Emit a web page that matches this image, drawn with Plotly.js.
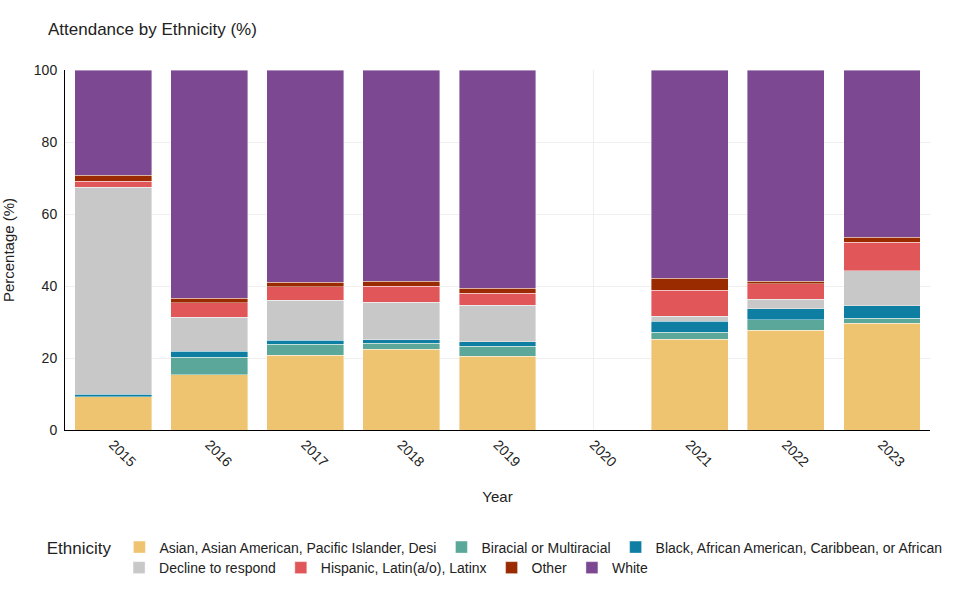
<!DOCTYPE html>
<html>
<head>
<meta charset="utf-8">
<script src="https://cdn.plot.ly/plotly-3.0.1.min.js"></script>
<style>html,body{margin:0;padding:0;background:#fff;}#chart{width:960px;height:600px;}</style>
</head>
<body>
<div id="chart"></div>
<script>
var years = ["2015","2016","2017","2018","2019","2020","2021","2022","2023"];
var seriesNames = ["Asian, Asian American, Pacific Islander, Desi","Biracial or Multiracial","Black, African American, Caribbean, or African","Decline to respond","Hispanic, Latin(a/o), Latinx","Other","White"];
var asian    = [9.3, 15.4, 20.7, 22.5, 20.5, null, 25.2, 27.7, 29.6];
var biracial = [0.0, 4.8, 3.1, 1.6, 2.7, null, 1.9, 2.9, 1.5];
var black    = [0.6, 1.7, 1.2, 1.0, 1.3, null, 3.1, 3.1, 3.4];
var decline  = [57.5, 9.4, 11.0, 10.4, 10.1, null, 1.4, 2.6, 9.8];
var hispanic = [1.7, 4.1, 3.8, 4.4, 3.4, null, 7.2, 4.3, 7.8];
var other    = [1.6, 1.2, 1.2, 1.4, 1.4, null, 3.3, 0.7, 1.4];
var white    = [29.3, 63.4, 59.0, 58.7, 60.6, null, 57.9, 58.7, 46.5];
var colors = ["#EFC470","#5BA89A","#0E7FA3","#C8C8C8","#E15759","#9A2B00","#7D4892"];
var values = [asian, biracial, black, decline, hispanic, other, white];
var legendGroups = ["legend","legend","legend","legend2","legend2","legend2","legend2"];

var traces = values.map(function(v, i){
  return {type:"bar", name: seriesNames[i], x: years, y: v, legend: legendGroups[i],
    marker:{color: colors[i], line:{color:"rgba(255,255,255,0.5)", width:0.8}}};
});

var layout = {
  width:960, height:600,
  barmode:"stack", bargap:0.2,
  font:{family:"Liberation Sans, Arial, sans-serif", size:14, color:"#222"},
  title:{text:"Attendance by Ethnicity (%)", x:0.05, xanchor:"left", y:0.952, yanchor:"middle", font:{size:17}},
  margin:{l:65, r:30, t:70, b:170},
  paper_bgcolor:"#fff", plot_bgcolor:"#fff",
  xaxis:{type:"category", categoryorder:"array", categoryarray:years,
    title:{text:"Year", font:{size:15}, standoff:22}, tickangle:45, showgrid:true, gridcolor:"#eeeeee",
    showline:true, linecolor:"#000", linewidth:1, ticks:"", tickfont:{size:14}},
  yaxis:{range:[0,100], title:{text:"Percentage (%)", font:{size:15}, standoff:15}, dtick:20,
    showgrid:true, gridcolor:"#eeeeee", showline:true, linecolor:"#000", linewidth:1,
    ticks:"outside", ticklen:4, tickcolor:"rgba(0,0,0,0)", zeroline:false, tickfont:{size:14}},
  legend:{orientation:"h", x:-0.0235, xanchor:"left", y:-0.282, yanchor:"top", bgcolor:"rgba(0,0,0,0)",
    title:{text:"Ethnicity", font:{size:17}}, font:{size:14}, traceorder:"normal"},
  legend2:{orientation:"h", x:0.0625, xanchor:"left", y:-0.339, yanchor:"top", bgcolor:"rgba(0,0,0,0)",
    font:{size:14}, traceorder:"normal"}
};
Plotly.newPlot("chart", traces, layout, {displayModeBar:false});
</script>
</body>
</html>
